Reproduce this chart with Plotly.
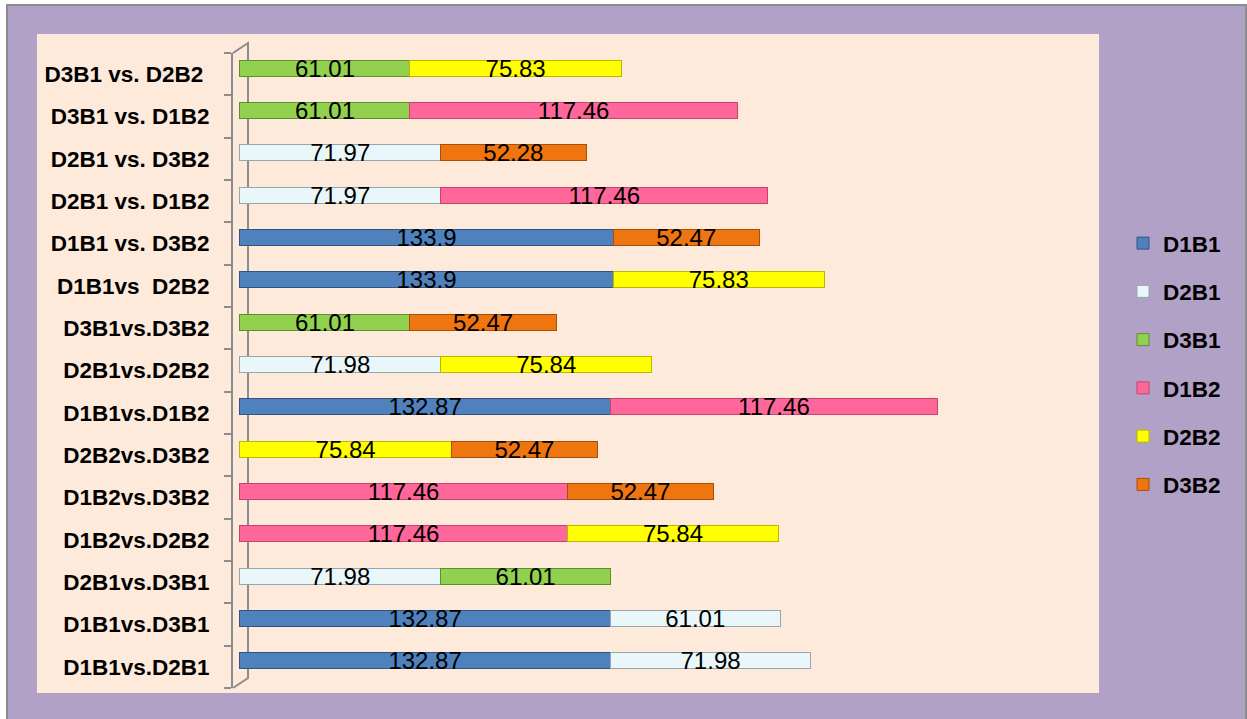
import plotly.graph_objects as go

# ---------------- data ----------------
categories = [
    "D1B1vs.D2B1", "D1B1vs.D3B1", "D2B1vs.D3B1", "D1B2vs.D2B2", "D1B2vs.D3B2",
    "D2B2vs.D3B2", "D1B1vs.D1B2", "D2B1vs.D2B2", "D3B1vs.D3B2", "D1B1vs\u00a0\u00a0D2B2",
    "D1B1 vs. D3B2", "D2B1 vs. D1B2", "D2B1 vs. D3B2", "D3B1 vs. D1B2", "D3B1 vs. D2B2\u00a0",
]
series_names = ["D1B1", "D2B1", "D3B1", "D1B2", "D2B2", "D3B2"]
D1B1 = [132.87, 132.87, None, None, None, None, 132.87, None, None, 133.9, 133.9, None, None, None, None]
D2B1 = [71.98, 61.01, 71.98, None, None, None, None, 71.98, None, None, None, 71.97, 71.97, None, None]
D3B1 = [None, None, 61.01, None, None, None, None, None, 61.01, None, None, None, None, 61.01, 61.01]
D1B2 = [None, None, None, 117.46, 117.46, None, 117.46, None, None, None, None, 117.46, None, 117.46, None]
D2B2 = [None, None, None, 75.84, None, 75.84, None, 75.84, None, 75.83, None, None, None, None, 75.83]
D3B2 = [None, None, None, None, 52.47, 52.47, None, None, 52.47, None, 52.47, None, 52.28, None, None]
series_values = [D1B1, D2B1, D3B1, D1B2, D2B2, D3B2]

# ---------------- styles ----------------
fill_colors = ["#4F81BD", "#E9F7FA", "#92D050", "#FF6699", "#FFFF00", "#EE7510"]
edge_colors = ["#2F5584", "#98A6AB", "#5E8F2A", "#C0456F", "#B8B800", "#A94E05"]

W, H = 1247, 719
L, R, T, B = 233, 1076, 53, 688  # plot area in px

def px(x):
    return (x - L) / (R - L)

def py(y):
    return (B - y) / (B - T)

fig = go.Figure()
for name, vals, fc, ec in zip(series_names, series_values, fill_colors, edge_colors):
    fig.add_trace(go.Bar(
        y=categories, x=vals, name=name, orientation="h",
        marker=dict(color=fc, line=dict(color=ec, width=1)),
        width=0.38, offset=-0.05,
        texttemplate="%{x}", textposition="inside", insidetextanchor="middle",
        textangle=0, constraintext="none",
        textfont=dict(family="Liberation Sans", size=24, color="black"),
        hoverinfo="skip", legendgroup=name, cliponaxis=False,
    ))

shapes = [
    dict(type="rect", xref="paper", yref="paper", layer="below",
         x0=px(7), x1=px(1246), y0=py(720), y1=py(5),
         fillcolor="#B2A1C7", line=dict(color="#8C8C8C", width=2)),
    dict(type="rect", xref="paper", yref="paper", layer="below",
         x0=px(37), x1=px(1099), y0=py(693), y1=py(34),
         fillcolor="#FDEADA", line=dict(width=0)),
    dict(type="path", xref="paper", yref="paper", layer="below",
         path=f"M {px(233)},{py(53)} L {px(248)},{py(43)} L {px(248)},{py(678)} L {px(233)},{py(688)}",
         line=dict(color="#8C8C8C", width=2)),
]

fig.update_layout(
    width=W, height=H,
    margin=dict(l=L, r=W - R, t=T, b=H - B, pad=0),
    paper_bgcolor="white", plot_bgcolor="rgba(0,0,0,0)",
    barmode="stack", showlegend=True,
    shapes=shapes,
    xaxis=dict(range=[-2.5, 300], visible=False, showgrid=False, zeroline=False),
    yaxis=dict(type="category", categoryorder="array", categoryarray=categories,
               range=[-0.5, len(categories) - 0.5],
               showline=True, linecolor="#8C8C8C", linewidth=2,
               ticks="outside", ticklen=7, tickcolor="#8C8C8C", tickwidth=2,
               tickson="boundaries", ticklabelstandoff=17,
               showgrid=False, zeroline=False,
               tickfont=dict(family="Liberation Sans", size=22.5, color="black", weight="bold")),
    legend=dict(x=px(1123), y=py(364), xanchor="left", yanchor="middle",
                traceorder="grouped", tracegroupgap=16, bgcolor="rgba(0,0,0,0)",
                font=dict(family="Liberation Sans", size=22.5, color="black", weight="bold")),
    font=dict(family="Liberation Sans"),
)

fig.write_html("out.html", config={"displayModeBar": False},
               post_script="document.body.style.margin='0';")
